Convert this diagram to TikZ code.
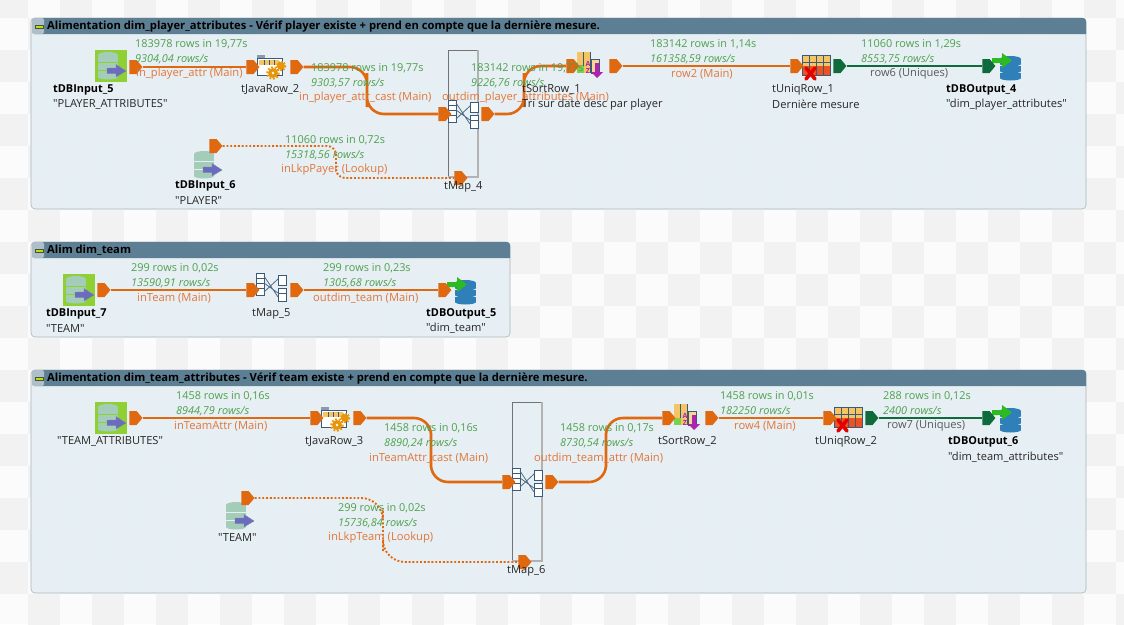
\documentclass[tikz,border=0pt]{standalone}
\usepackage{fontspec}
\newfontfamily\opensans{Open Sans}
\usetikzlibrary{shapes.symbols,calc}
\definecolor{statc}{HTML}{4FA04F}
\definecolor{flowc}{HTML}{E2763A}
\definecolor{orgc}{HTML}{E0680F}
\definecolor{grnc}{HTML}{0F6B3C}
\definecolor{hdrc}{HTML}{5D7F93}
\definecolor{grpc}{HTML}{E6EFF4}
\definecolor{inkc}{HTML}{3A5A78}
\definecolor{yelc}{HTML}{F5C565}
\definecolor{limec}{HTML}{8FD135}
\definecolor{cylg}{HTML}{A3CDB9}
\definecolor{cylb}{HTML}{2F80B8}
\definecolor{arrg}{HTML}{2DBB1F}
\definecolor{arrp}{HTML}{6C6CBE}
\definecolor{sortm}{HTML}{B022B0}
\tikzset{
  tstat/.style={anchor=west,inner sep=0,text=statc,font=\opensans\fontsize{10.9}{12}\selectfont},
  trate/.style={anchor=west,inner sep=0,text=statc,font=\opensans\fontsize{10.9}{12}\selectfont\itshape},
  tflow/.style={anchor=west,inner sep=0,text=flowc,font=\opensans\fontsize{11.2}{12}\selectfont},
  tcap/.style={anchor=west,inner sep=0,text=black!85,font=\opensans\fontsize{11.1}{12}\selectfont},
  tcapg/.style={anchor=west,inner sep=0,text=black!65,font=\opensans\fontsize{11.1}{12}\selectfont},
  tbold/.style={anchor=west,inner sep=0,text=black,font=\opensans\fontsize{10.9}{12}\selectfont\bfseries},
  ttitle/.style={anchor=west,inner sep=0,text=black,font=\opensans\fontsize{11.2}{12}\selectfont\bfseries},
  portbase/.style={signal,signal to=east,signal pointer angle=100,inner sep=0,minimum width=13,minimum height=14,draw=none},
  porto/.style={portbase,fill=orgc},
  portg/.style={portbase,fill=grnc},
  connm/.style={draw=orgc,line width=2.6pt},
  conng/.style={draw=grnc,line width=2.6pt},
  connl/.style={draw=orgc,line width=1.9pt,dash pattern=on 1.9pt off 1.9pt},
  bent/.style={rounded corners=17pt},
  comp/.style={inner sep=0,minimum size=28,draw=none},
  mapbox/.style={inner sep=0,draw=none},
  dbcyl/.pic={
    \foreach \yy/\hh in {-11/7,-3/7,5/6}{
      \fill[#1] (-13,\yy) rectangle (7,\yy+\hh);
    }
    \fill[#1] (-3,-11) ellipse [x radius=10,y radius=3];
    \fill[#1] (-3,11) ellipse [x radius=10,y radius=2.5];
  },
  dbinp/.pic={
    \pic at (0,0) {dbcyl={cylg}};
    \fill[fill=arrp,draw=inkc!70,line width=.4pt] (-4,2) -- (5,2) -- (5,-1.5) -- (15,5) -- (5,11) -- (5,7.5) -- (-4,7.5) -- cycle;
  },
  dbout/.pic={
    \foreach \yy in {-7,0,7}{
      \fill[cylb] (-8,\yy) rectangle (13,\yy+5);
      \fill[cylb] (2.5,\yy+5) ellipse [x radius=10.5,y radius=2.5];
    }
    \fill[cylb] (2.5,-7) ellipse [x radius=10.5,y radius=3];
    \fill[arrg] (-16,-8) -- (-6,-8) -- (-6,-13) -- (4,-5.5) -- (-6,2) -- (-6,-3) -- (-16,-3) -- cycle;
  },
  javapic/.pic={
    \draw[inkc,line width=.9pt,fill=white] (-14,-8) rectangle (11,9);
    \fill[inkc!60] (-14,-11) rectangle (-6,-8);
    \fill[yelc] (-12,-6.5) rectangle (8,-1.5);
    \draw[inkc,line width=.5pt] (-7,-6.5) -- (-7,-1.5) (-2,-6.5) -- (-2,-1.5) (3,-6.5) -- (3,-1.5);
    \fill[orgc!70!yellow] (10,0) circle (4);
    \draw[orgc!70!yellow,line width=1.5pt,dash pattern=on 1.5pt off 1.5pt] (10,0) circle (4.5);
    \fill[orgc!70!yellow] (2,7) circle (5);
    \draw[orgc!70!yellow,line width=1.8pt,dash pattern=on 1.8pt off 1.8pt] (2,7) circle (5.8);
    \fill[white] (2,7) circle (1.3);
  },
  sortpic/.pic={
    \fill[yelc] (-13,-14) rectangle (1,7);
    \fill[yelc!70!white] (1,-7) rectangle (9,7);
    \draw[inkc,line width=.7pt] (-13,-14) grid[step=7] (1,7);
    \draw[inkc,line width=.7pt] (1,-7) rectangle (9,7);
    \fill[green!50!olive!70!white] (-13,0) rectangle (-6,7);
    \node[inner sep=0,text=sortm,font=\opensans\fontsize{7}{7}\selectfont\bfseries] (sa) at (-2,-2) {A};
    \node[inner sep=0,text=sortm,font=\opensans\fontsize{7}{7}\selectfont\bfseries] (sz) at (-2,5) {Z};
    \fill[sortm] (5,-3) -- (9,-3) -- (9,6) -- (13,6) -- (7,12) -- (1,6) -- (5,6) -- cycle;
  },
  uniqpic/.pic={
    \fill[yelc] (-14,-11) rectangle (14,0);
    \fill[orgc!60!red!90!white] (-14,0) rectangle (14,9);
    \draw[inkc,line width=.8pt] (-14,-11) rectangle (14,9);
    \draw[inkc,line width=.5pt] (-7,-11) -- (-7,9) (0,-11) -- (0,9) (7,-11) -- (7,9) (-14,-4) -- (14,-4);
    \draw[red!90!black,line width=3.6pt,line cap=round] (-10,2) -- (-1,13) (-1,2) -- (-10,13);
  },
  mappic/.pic={
    \draw[inkc,line width=.8pt,fill=white] (-15,-14) rectangle (-7,8);
    \draw[inkc,line width=.4pt] (-15,-9) -- (-7,-9) (-15,-4) -- (-7,-4) (-15,1) -- (-7,1);
    \draw[inkc,line width=.8pt,fill=white] (7,-12) rectangle (15,-2);
    \draw[inkc,line width=.8pt,fill=white] (7,1) rectangle (15,14);
    \draw[inkc,line width=.4pt] (7,6) -- (15,6);
    \draw[inkc!90,line width=.8pt] (-7,-11) -- (7,10) (-7,5) -- (7,-8) (-7,-4) -- (7,6);
  },
}
\newcommand{\grpbox}[6]{%
  \fill[grpc,fill opacity=.92,rounded corners=4pt] (#2,#3) rectangle (#4,#5);
  \draw[draw=black!30!hdrc!45!white,line width=.6pt,rounded corners=4pt] (#2,#3) rectangle (#4,#5);
  \fill[hdrc] ($(#2,#3)+(1,0)$) [rounded corners=3pt] -- ($(#2,#3)+(1,16)$) [sharp corners] -- (#4,#3+16) [rounded corners=3pt] -- (#4,#3) -- cycle;
  \fill[hdrc!50!white,rounded corners=2pt] (#2+1,#3) rectangle (#2+13,#3+16);
  \fill[lime!80!olive,draw=black!70,line width=.4pt] (#2+4,#3+7) rectangle (#2+12,#3+10.5);
  \node[ttitle] (#1) at (#2+16,#3+8.6) {#6};
}
\begin{document}
\begin{tikzpicture}[x=1pt,y=-1pt]
\useasboundingbox (0,0) rectangle (1124,624);
\fill[black!1.5] (0,0) rectangle (1124,624);
\foreach \i in {0,...,35}{\foreach \j in {0,...,20}{
  \pgfmathtruncatemacro{\pp}{mod(\i+\j,2)}
  \ifnum\pp=0 \fill[black!5] (\i*32-4,\j*32-14) rectangle (\i*32+28,\j*32+18);\fi
}}
\grpbox{g1}{31}{18}{1086}{209}{Alimentation dim\_player\_attributes - Vérif player existe + prend en compte que la dernière mesure.}
\grpbox{g2}{31}{242}{510}{337}{Alim dim\_team}
\grpbox{g3}{31}{370}{1086}{593}{Alimentation dim\_team\_attributes - Vérif team existe + prend en compte que la dernière mesure.}

% --- group 1 ---
\fill[limec] (95,50) rectangle (127,82);
\node[comp] (c5) at (111,66) {}; \pic at (c5) {dbinp};
\node[comp] (j2) at (271,66) {}; \pic at (j2) {javapic};
\fill[grpc] (448,50) rectangle (478,177);
\draw[black!55,line width=.7pt] (478,50) -- (448,50) -- (448,177);
\draw[black!30,line width=1.4pt] (478,50) -- (478,177) -- (448,177);
\node[mapbox,minimum width=30,minimum height=127] (m4) at (463,113.5) {};
\pic at (463,114) {mappic};
\node[comp] (s1) at (590,66) {}; \pic at (s1) {sortpic};
\node[comp] (u1) at (816,66) {}; \pic at (u1) {uniqpic};
\node[comp] (o4) at (1008,66) {}; \pic at (o4) {dbout};
\node[comp] (c6) at (207,165) {}; \pic at (c6) {dbinp};
\node[porto] (p1a) at (133,67) {};
\node[porto] (p1b) at (250,67) {};
\node[porto] (p1c) at (294,67) {};
\node[porto] (p1d) at (442,114) {};
\node[porto] (p1e) at (485,114) {};
\node[porto] (p1f) at (570,66) {};
\node[porto] (p1g) at (613,66) {};
\node[porto] (p1h) at (794,66) {};
\node[portg] (p1i) at (837,66) {};
\node[portg] (p1j) at (986,66) {};
\node[porto] (p1k) at (213,146) {};
\node[porto] (p1l) at (458,178) {};
\coordinate (b1) at (367,90);
\coordinate (b2) at (524,90);
\coordinate (b3) at (336,162);
\draw[connm] (p1a) -- (p1b);
\draw[connm,bent] (p1c) -| (b1) |- (p1d);
\draw[connm,bent] (p1e) -| (b2) |- (p1f);
\draw[connm] (p1g) -- (p1h);
\draw[conng] (p1i) -- (p1j);
\draw[connl,rounded corners=9pt] (p1k) -| (b3) |- (p1l);

\node[tstat] (l1) at (135,44) {183978 rows in 19,77s};
\node[trate] (l2) at (135,59) {9304,04 rows/s};
\node[tflow] (l3) at (136,74) {in\_player\_attr (Main)};
\node[tbold] (l4) at (53,90) {tDBInput\_5};
\node[tcap] (l5) at (53,104.5) {"PLAYER\_ATTRIBUTES"};
\node[tcap] (l6) at (241,89.5) {tJavaRow\_2};
\node[tstat] (l7) at (311,68) {183978 rows in 19,77s};
\node[trate] (l8) at (311,83) {9303,57 rows/s};
\node[tflow] (l9) at (299,98) {in\_player\_attr\_cast (Main)};
\node[tstat] (l10) at (471,68) {183142 rows in 19,77s};
\node[trate] (l11) at (471,83) {9226,76 rows/s};
\node[tflow] (l12) at (442,98) {outdim\_player\_attributes (Main)};
\node[tcap] (l13) at (522,89.5) {tSortRow\_1};
\node[tcap] (l14) at (522,104.5) {Tri sur date desc par player};
\node[tcap] (l15) at (444,186.5) {tMap\_4};
\node[tstat] (l16) at (285,140) {11060 rows in 0,72s};
\node[trate] (l17) at (285,155) {15318,56 rows/s};
\node[tflow] (l18) at (281,170) {inLkpPayer (Lookup)};
\node[tbold] (l19) at (175,186) {tDBInput\_6};
\node[tcap] (l20) at (175,200.5) {"PLAYER"};
\node[tstat] (l21) at (650,44) {183142 rows in 1,14s};
\node[trate] (l22) at (650,59) {161358,59 rows/s};
\node[tflow] (l23) at (671,74) {row2 (Main)};
\node[tcap] (l24) at (772,89.5) {tUniqRow\_1};
\node[tcap] (l25) at (772,104.5) {Dernière mesure};
\node[tstat] (l26) at (861,44) {11060 rows in 1,29s};
\node[trate] (l27) at (861,59) {8553,75 rows/s};
\node[tcapg] (l28) at (870,74) {row6 (Uniques)};
\node[tbold] (l29) at (946,90) {tDBOutput\_4};
\node[tcap] (l30) at (946,104.5) {"dim\_player\_attributes"};

% --- group 2 ---
\fill[limec] (63,274) rectangle (95,306);
\node[comp] (c7) at (79,290) {}; \pic at (c7) {dbinp};
\node[comp] (m5) at (271,287) {}; \pic at (m5) {mappic};
\node[comp] (o5) at (463,290) {}; \pic at (o5) {dbout};
\node[porto] (p2a) at (101,290) {};
\node[porto] (p2b) at (250,290) {};
\node[porto] (p2c) at (294,290) {};
\node[porto] (p2d) at (442,290) {};
\draw[connm] (p2a) -- (p2b);
\draw[connm] (p2c) -- (p2d);
\node[tstat] (m1) at (131,268) {299 rows in 0,02s};
\node[trate] (m2) at (131,283) {13590,91 rows/s};
\node[tflow] (m3) at (137,298) {inTeam (Main)};
\node[tbold] (m4t) at (46,314) {tDBInput\_7};
\node[tcap] (m5t) at (46,328.5) {"TEAM"};
\node[tcap] (m6) at (252,313.5) {tMap\_5};
\node[tstat] (m7) at (323,268) {299 rows in 0,23s};
\node[trate] (m8) at (323,283) {1305,68 rows/s};
\node[tflow] (m9) at (313,298) {outdim\_team (Main)};
\node[tbold] (m10) at (426,314) {tDBOutput\_5};
\node[tcap] (m11) at (426,328.5) {"dim\_team"};

% --- group 3 ---
\fill[limec] (95,402) rectangle (127,434);
\node[comp] (ca) at (111,418) {}; \pic at (ca) {dbinp};
\node[comp] (j3) at (335,418) {}; \pic at (j3) {javapic};
\fill[grpc] (512,402) rectangle (542,561);
\draw[black!55,line width=.7pt] (542,402) -- (512,402) -- (512,561);
\draw[black!30,line width=1.4pt] (542,402) -- (542,561) -- (512,561);
\node[mapbox,minimum width=30,minimum height=159] (m6box) at (527,481.5) {};
\pic at (527,482) {mappic};
\node[comp] (s2) at (687,418) {}; \pic at (s2) {sortpic};
\node[comp] (u2) at (848,418) {}; \pic at (u2) {uniqpic};
\node[comp] (o6) at (1008,418) {}; \pic at (o6) {dbout};
\node[comp] (cb) at (239,516) {}; \pic at (cb) {dbinp};
\node[porto] (p3a) at (133,418) {};
\node[porto] (p3b) at (314,418) {};
\node[porto] (p3c) at (357,418) {};
\node[porto] (p3d) at (506,482) {};
\node[porto] (p3e) at (549,482) {};
\node[porto] (p3f) at (666,418) {};
\node[porto] (p3g) at (709,418) {};
\node[porto] (p3h) at (827,418) {};
\node[portg] (p3i) at (869,418) {};
\node[portg] (p3j) at (986,418) {};
\node[porto] (p3k) at (245,498) {};
\node[porto] (p3l) at (522,562) {};
\coordinate (b4) at (431,450);
\coordinate (b5) at (606,450);
\coordinate (b6) at (383,530);
\draw[connm] (p3a) -- (p3b);
\draw[connm,bent] (p3c) -| (b4) |- (p3d);
\draw[connm,bent] (p3e) -| (b5) |- (p3f);
\draw[connm] (p3g) -- (p3h);
\draw[conng] (p3i) -- (p3j);
\draw[connl,rounded corners=22pt] (p3k) -| (b6) |- (p3l);

\node[tstat] (n1) at (176,396) {1458 rows in 0,16s};
\node[trate] (n2) at (176,411) {8944,79 rows/s};
\node[tflow] (n3) at (174,426) {inTeamAttr (Main)};
\node[tcap] (n4) at (57,441.5) {"TEAM\_ATTRIBUTES"};
\node[tcap] (n5) at (305,441.5) {tJavaRow\_3};
\node[tstat] (n6) at (384,428) {1458 rows in 0,16s};
\node[trate] (n7) at (384,443) {8890,24 rows/s};
\node[tflow] (n8) at (369,458) {inTeamAttr\_cast (Main)};
\node[tstat] (n9) at (560,428) {1458 rows in 0,17s};
\node[trate] (n10) at (560,443) {8730,54 rows/s};
\node[tflow] (n11) at (534,458) {outdim\_team\_attr (Main)};
\node[tcap] (n12) at (658,441.5) {tSortRow\_2};
\node[tstat] (n13) at (720,396) {1458 rows in 0,01s};
\node[trate] (n14) at (720,411) {182250 rows/s};
\node[tflow] (n15) at (734,426) {row4 (Main)};
\node[tcap] (n16) at (815,441.5) {tUniqRow\_2};
\node[tstat] (n17) at (883,396) {288 rows in 0,12s};
\node[trate] (n18) at (883,411) {2400 rows/s};
\node[tcapg] (n19) at (887,426) {row7 (Uniques)};
\node[tbold] (n20) at (948,442) {tDBOutput\_6};
\node[tcap] (n21) at (948,457) {"dim\_team\_attributes"};
\node[tcap] (n22) at (218,538) {"TEAM"};
\node[tstat] (n23) at (338,508) {299 rows in 0,02s};
\node[trate] (n24) at (338,523) {15736,84 rows/s};
\node[tflow] (n25) at (328,538) {inLkpTeam (Lookup)};
\node[tcap] (n26) at (507,570.5) {tMap\_6};
\end{tikzpicture}
\end{document}
